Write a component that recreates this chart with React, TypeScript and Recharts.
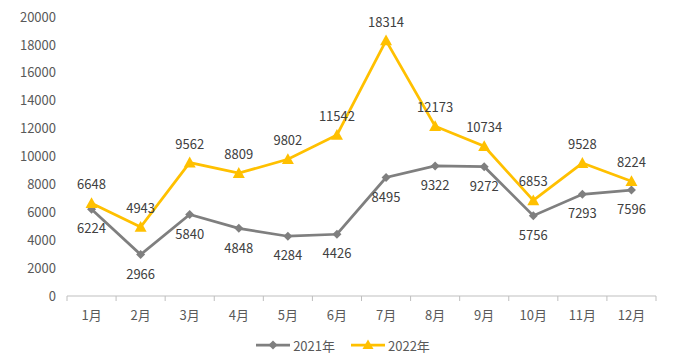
import React from 'react';
import { LineChart, Line, XAxis, YAxis, Legend, LabelList } from 'recharts';

const months = ['1月', '2月', '3月', '4月', '5月', '6月', '7月', '8月', '9月', '10月', '11月', '12月'];
const v2021 = [6224, 2966, 5840, 4848, 4284, 4426, 8495, 9322, 9272, 5756, 7293, 7596];
const v2022 = [6648, 4943, 9562, 8809, 9802, 11542, 18314, 12173, 10734, 6853, 9528, 8224];
const yTicks = [0, 2000, 4000, 6000, 8000, 10000, 12000, 14000, 16000, 18000, 20000];
const seriesNames = ['2021年', '2022年'];

const data = months.map((m, i) => ({ month: m, a: v2021[i], b: v2022[i] }));

const W = 673;
const H = 364;
const M = { top: 17, right: 17, bottom: 9, left: 0 };
const YW = 67;
const band = (W - M.left - M.right - YW) / months.length;
const FONT = '"Noto Sans CJK SC", "Noto Sans", sans-serif';
const GRAY = '#7f7f7f';
const GOLD = '#ffc000';
const TXT = '#404040';

const Diamond = (props: any) => {
  const { cx, cy } = props;
  if (cx == null || cy == null) return null;
  const r = 4.5;
  return <path d={`M${cx},${cy - r}L${cx + r},${cy}L${cx},${cy + r}L${cx - r},${cy}Z`} fill={GRAY} />;
};

const Triangle = (props: any) => {
  const { cx, cy } = props;
  if (cx == null || cy == null) return null;
  const r = 6;
  return <path d={`M${cx},${cy - r}L${cx + r},${cy + r * 0.8}L${cx - r},${cy + r * 0.8}Z`} fill={GOLD} />;
};

const XTick = (props: any) => {
  const { x, y, payload, index } = props;
  const half = band / 2;
  return (
    <g>
      <line x1={x - half} x2={x - half} y1={y} y2={y + 5} stroke="#bfbfbf" />
      {index === months.length - 1 && <line x1={x + half} x2={x + half} y1={y} y2={y + 5} stroke="#bfbfbf" />}
      <text x={x} y={y + 18} textAnchor="middle" dominantBaseline="central" fill="#595959" fontSize={13} fontFamily={FONT}>
        {payload.value}
      </text>
    </g>
  );
};

const LegendContent = () => (
  <div style={{ display: 'flex', justifyContent: 'center', alignItems: 'center', fontFamily: FONT, fontSize: 13, color: '#595959', height: 20, paddingLeft: 30 }}>
    <svg width={34} height={12} style={{ marginRight: 3 }}>
      <line x1={0} x2={34} y1={6} y2={6} stroke={GRAY} strokeWidth={2.75} />
      <path d="M17,1.5L21.5,6L17,10.5L12.5,6Z" fill={GRAY} />
    </svg>
    <span style={{ marginRight: 16 }}>{seriesNames[0]}</span>
    <svg width={34} height={12} style={{ marginRight: 3 }}>
      <line x1={0} x2={34} y1={6} y2={6} stroke={GOLD} strokeWidth={2.75} />
      <path d="M17,0.5L22.5,10L11.5,10Z" fill={GOLD} />
    </svg>
    <span>{seriesNames[1]}</span>
  </div>
);

export default function App() {
  return (
    <div style={{ position: 'absolute', left: 0, top: 0, width: W, height: H, background: '#fff' }}>
      <LineChart width={W} height={H} data={data} margin={M}>
        <XAxis
          dataKey="month"
          axisLine={{ stroke: '#bfbfbf' }}
          tickLine={false}
          tickSize={0}
          tickMargin={0}
          tick={<XTick />}
          interval={0}
          height={39}
          padding={{ left: band / 2, right: band / 2 }}
        />
        <YAxis
          width={YW}
          domain={[0, 20000]}
          ticks={yTicks}
          interval={0}
          axisLine={false}
          tickLine={false}
          tickSize={0}
          tickMargin={11}
          tick={{ fill: '#595959', fontSize: 13, fontFamily: FONT }}
        />
        <Legend verticalAlign="bottom" height={20} content={<LegendContent />} />
        <Line
          dataKey="a"
          name={seriesNames[0]}
          stroke={GRAY}
          strokeWidth={2.75}
          dot={<Diamond />}
          activeDot={false}
          isAnimationActive={false}
        >
          <LabelList dataKey="a" position="bottom" offset={15} fill={TXT} fontSize={13} fontFamily={FONT} />
        </Line>
        <Line
          dataKey="b"
          name={seriesNames[1]}
          stroke={GOLD}
          strokeWidth={2.75}
          dot={<Triangle />}
          activeDot={false}
          isAnimationActive={false}
        >
          <LabelList dataKey="b" position="top" offset={14} fill={TXT} fontSize={13} fontFamily={FONT} />
        </Line>
      </LineChart>
    </div>
  );
}
